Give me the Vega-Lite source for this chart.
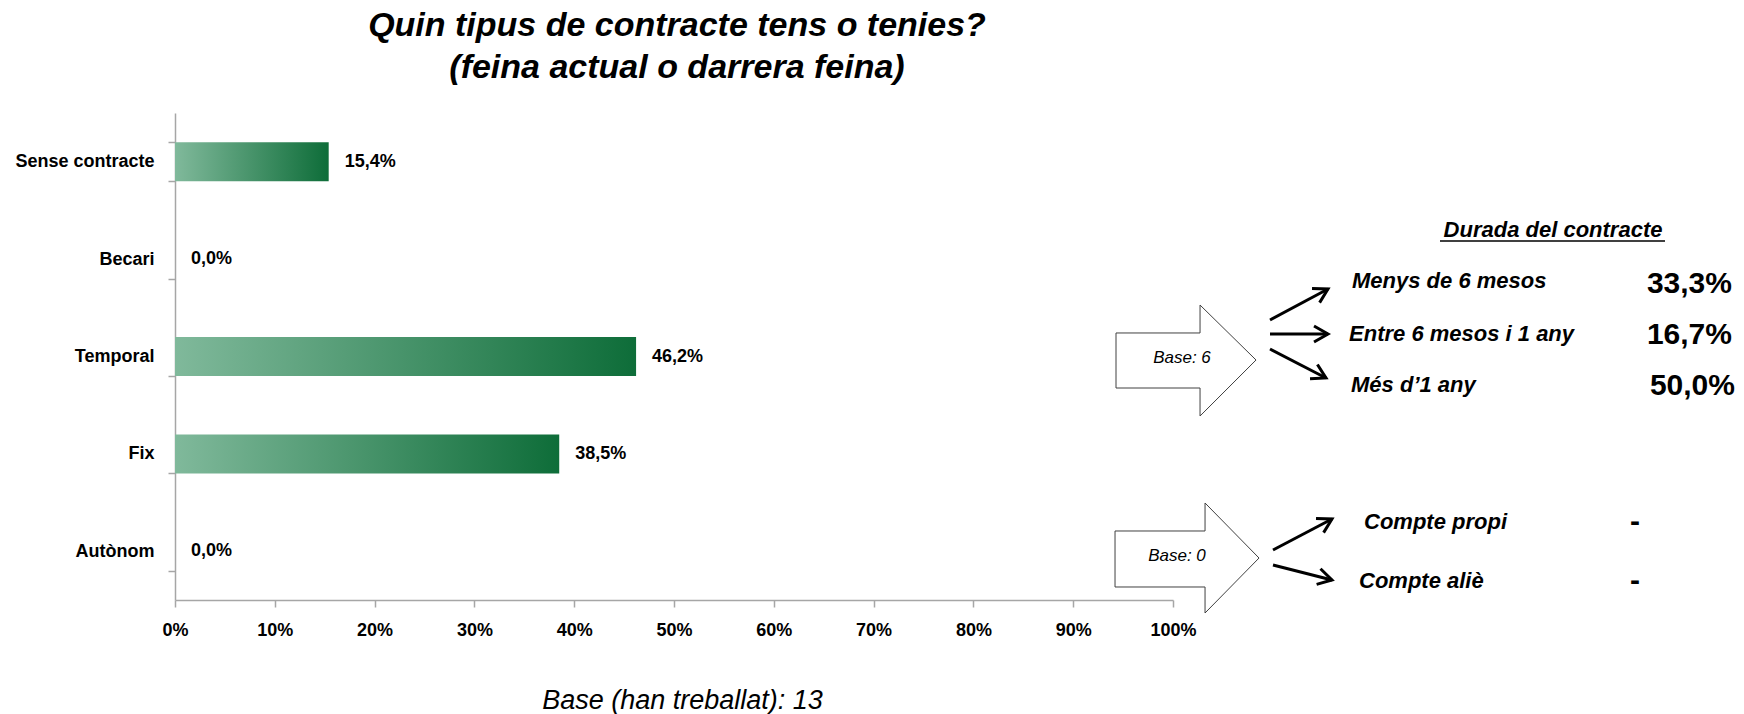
{
  "$schema": "https://vega.github.io/schema/vega-lite/v6.json",
  "autosize": {"type": "none"},
  "padding": {"left": 175, "top": 113, "right": 571, "bottom": 114},
  "width": 998,
  "height": 487,
  "background": "white",
  "title": {
    "text": ["Quin tipus de contracte tens o tenies?", "(feina actual o darrera feina)"],
    "font": "Liberation Sans",
    "fontSize": 34,
    "fontWeight": "bold",
    "fontStyle": "italic",
    "lineHeight": 42,
    "anchor": "middle",
    "dx": 3,
    "offset": 19,
    "color": "#000000"
  },
  "config": {
    "view": {"stroke": null},
    "locale": {"number": {"decimal": ",", "thousands": ".", "grouping": [3], "currency": ["", " €"]}},
    "axis": {
      "labelFont": "Liberation Sans",
      "labelFontWeight": "bold",
      "labelFontSize": 18,
      "labelColor": "#000000",
      "domainColor": "#a6a6a6",
      "tickColor": "#a6a6a6",
      "domainWidth": 1.5,
      "tickWidth": 1.5,
      "grid": false,
      "labelFlush": false
    }
  },
  "datasets": {
    "bars": [
      {"tipus": "Sense contracte", "pct": 0.154},
      {"tipus": "Becari", "pct": 0.0},
      {"tipus": "Temporal", "pct": 0.462},
      {"tipus": "Fix", "pct": 0.385},
      {"tipus": "Autònom", "pct": 0.0}
    ],
    "shapes": [
      {"shape": "b6", "ord": 0, "ax": 94.29, "ay": 45.17},
      {"shape": "b6", "ord": 1, "ax": 102.71, "ay": 45.17},
      {"shape": "b6", "ord": 2, "ax": 102.71, "ay": 39.43},
      {"shape": "b6", "ord": 3, "ax": 108.32, "ay": 50.72},
      {"shape": "b6", "ord": 4, "ax": 102.71, "ay": 62.22},
      {"shape": "b6", "ord": 5, "ax": 102.71, "ay": 56.47},
      {"shape": "b6", "ord": 6, "ax": 94.29, "ay": 56.47},
      {"shape": "b6", "ord": 7, "ax": 94.29, "ay": 45.17},
      {"shape": "b0", "ord": 0, "ax": 94.19, "ay": 85.83},
      {"shape": "b0", "ord": 1, "ax": 103.21, "ay": 85.83},
      {"shape": "b0", "ord": 2, "ax": 103.21, "ay": 80.08},
      {"shape": "b0", "ord": 3, "ax": 108.62, "ay": 91.38},
      {"shape": "b0", "ord": 4, "ax": 103.21, "ay": 102.67},
      {"shape": "b0", "ord": 5, "ax": 103.21, "ay": 97.33},
      {"shape": "b0", "ord": 6, "ax": 94.19, "ay": 97.33},
      {"shape": "b0", "ord": 7, "ax": 94.19, "ay": 85.83}
    ],
    "arrows": [
      {"seg": "a1s", "ord": 0, "ax": 109.72, "ay": 42.51},
      {"seg": "a1s", "ord": 1, "ax": 115.53, "ay": 36.14},
      {"seg": "a1h", "ord": 0, "ax": 113.93, "ay": 36.04},
      {"seg": "a1h", "ord": 1, "ax": 115.53, "ay": 36.14},
      {"seg": "a1h", "ord": 2, "ax": 114.69, "ay": 38.93},
      {"seg": "a2s", "ord": 0, "ax": 109.72, "ay": 45.38},
      {"seg": "a2s", "ord": 1, "ax": 115.53, "ay": 45.38},
      {"seg": "a2h", "ord": 0, "ax": 114.13, "ay": 43.74},
      {"seg": "a2h", "ord": 1, "ax": 115.53, "ay": 45.38},
      {"seg": "a2h", "ord": 2, "ax": 114.13, "ay": 47.02},
      {"seg": "a3s", "ord": 0, "ax": 109.72, "ay": 48.46},
      {"seg": "a3s", "ord": 1, "ax": 115.33, "ay": 54.41},
      {"seg": "a3h", "ord": 0, "ax": 114.47, "ay": 51.64},
      {"seg": "a3h", "ord": 1, "ax": 115.33, "ay": 54.41},
      {"seg": "a3h", "ord": 2, "ax": 113.73, "ay": 54.56},
      {"seg": "b1s", "ord": 0, "ax": 110.02, "ay": 89.73},
      {"seg": "b1s", "ord": 1, "ax": 115.93, "ay": 83.37},
      {"seg": "b1h", "ord": 0, "ax": 114.33, "ay": 83.26},
      {"seg": "b1h", "ord": 1, "ax": 115.93, "ay": 83.37},
      {"seg": "b1h", "ord": 2, "ax": 115.09, "ay": 86.16},
      {"seg": "b2s", "ord": 0, "ax": 110.02, "ay": 92.81},
      {"seg": "b2s", "ord": 1, "ax": 115.93, "ay": 95.89},
      {"seg": "b2h", "ord": 0, "ax": 114.78, "ay": 93.59},
      {"seg": "b2h", "ord": 1, "ax": 115.93, "ay": 95.89},
      {"seg": "b2h", "ord": 2, "ax": 114.39, "ay": 96.78}
    ],
    "items": [
      {"txt": "Menys de 6 mesos", "ax": 117.94, "ay": 34.5},
      {"txt": "Entre 6 mesos i 1 any", "ax": 117.64, "ay": 45.38},
      {"txt": "Més d’1 any", "ax": 117.84, "ay": 55.85},
      {"txt": "Compte propi", "ax": 119.14, "ay": 83.98},
      {"txt": "Compte aliè", "ax": 118.64, "ay": 96.1}
    ],
    "values": [
      {"txt": "33,3%", "ax": 156.01, "ay": 35.11},
      {"txt": "16,7%", "ax": 156.01, "ay": 45.59},
      {"txt": "50,0%", "ax": 156.31, "ay": 56.06}
    ],
    "dashes": [
      {"txt": "-", "ax": 146.29, "ay": 83.98},
      {"txt": "-", "ax": 146.29, "ay": 96.1}
    ],
    "heading": [
      {"txt": "Durada del contracte", "ax": 138.08, "ay": 24.02, "ax2": 149.3, "axl": 126.75, "ayl": 26.28}
    ],
    "bases": [
      {"txt": "Base: 6", "ax": 100.9, "ay": 50.31},
      {"txt": "Base: 0", "ax": 100.4, "ay": 90.97}
    ]
  },
  "layer": [
    {
      "data": {"name": "bars"},
      "encoding": {
        "y": {
          "field": "tipus",
          "type": "nominal",
          "sort": null,
          "scale": {"paddingInner": 0.6, "paddingOuter": 0.3},
          "axis": {"title": null, "tickBand": "extent", "tickSize": 7, "labelPadding": 14}
        },
        "x": {
          "field": "pct",
          "type": "quantitative",
          "scale": {"domain": [0, 1], "nice": false},
          "axis": {
            "format": ".0%",
            "values": [0, 0.1, 0.2, 0.3, 0.4, 0.5, 0.6, 0.7, 0.8, 0.9, 1],
            "tickSize": 7,
            "labelPadding": 14,
            "labelFlush": false,
            "labelOverlap": false,
            "title": "Base (han treballat): 13",
            "titleFont": "Liberation Sans",
            "titleFontSize": 27,
            "titleFontStyle": "italic",
            "titleFontWeight": "normal",
            "titleColor": "#000000",
            "titlePadding": 48,
            "titleX": 507
          }
        }
      },
      "layer": [
        {
          "mark": {
            "type": "bar",
            "color": {
              "gradient": "linear",
              "x1": 0, "x2": 1, "y1": 0, "y2": 0,
              "stops": [
                {"offset": 0, "color": "#80b99b"},
                {"offset": 1, "color": "#0e6d39"}
              ]
            }
          }
        },
        {
          "mark": {
            "type": "text",
            "align": "left",
            "baseline": "middle",
            "dx": 16,
            "font": "Liberation Sans",
            "fontWeight": "bold",
            "fontSize": 18,
            "color": "#000000"
          },
          "encoding": {"text": {"field": "pct", "type": "quantitative", "format": ".1%"}}
        }
      ]
    },
    {
      "encoding": {
        "x": {"field": "ax", "type": "quantitative", "scale": {"domain": [0, 100], "nice": false, "zero": false}, "axis": null},
        "y": {"field": "ay", "type": "quantitative", "scale": {"domain": [0, 100], "nice": false, "zero": false, "reverse": true}, "axis": null}
      },
      "layer": [
        {
          "data": {"name": "shapes"},
          "mark": {"type": "line", "stroke": "#404040", "strokeWidth": 1, "strokeJoin": "miter"},
          "encoding": {"detail": {"field": "shape"}, "order": {"field": "ord", "type": "quantitative"}}
        },
        {
          "data": {"name": "arrows"},
          "mark": {"type": "line", "stroke": "#000000", "strokeWidth": 3, "strokeJoin": "miter"},
          "encoding": {"detail": {"field": "seg"}, "order": {"field": "ord", "type": "quantitative"}}
        },
        {
          "data": {"name": "items"},
          "mark": {"type": "text", "align": "left", "baseline": "middle", "font": "Liberation Sans", "fontWeight": "bold", "fontStyle": "italic", "fontSize": 22, "color": "#000000"},
          "encoding": {"text": {"field": "txt"}}
        },
        {
          "data": {"name": "values"},
          "mark": {"type": "text", "align": "right", "baseline": "middle", "font": "Liberation Sans", "fontWeight": "bold", "fontSize": 30, "color": "#000000"},
          "encoding": {"text": {"field": "txt"}}
        },
        {
          "data": {"name": "dashes"},
          "mark": {"type": "text", "align": "center", "baseline": "middle", "font": "Liberation Sans", "fontWeight": "bold", "fontSize": 30, "color": "#000000"},
          "encoding": {"text": {"field": "txt"}}
        },
        {
          "data": {"name": "heading"},
          "mark": {"type": "text", "align": "center", "baseline": "middle", "font": "Liberation Sans", "fontWeight": "bold", "fontStyle": "italic", "fontSize": 22, "color": "#000000"},
          "encoding": {"text": {"field": "txt"}}
        },
        {
          "data": {"name": "heading"},
          "mark": {"type": "rule", "stroke": "#000000", "strokeWidth": 1.5},
          "encoding": {
            "x": {"field": "axl", "type": "quantitative"},
            "x2": {"field": "ax2"},
            "y": {"field": "ayl", "type": "quantitative"}
          }
        },
        {
          "data": {"name": "bases"},
          "mark": {"type": "text", "align": "center", "baseline": "middle", "font": "Liberation Sans", "fontStyle": "italic", "fontSize": 17, "color": "#000000"},
          "encoding": {"text": {"field": "txt"}}
        }
      ]
    }
  ],
  "resolve": {"scale": {"x": "independent", "y": "independent"}, "axis": {"x": "independent", "y": "independent"}}
}
